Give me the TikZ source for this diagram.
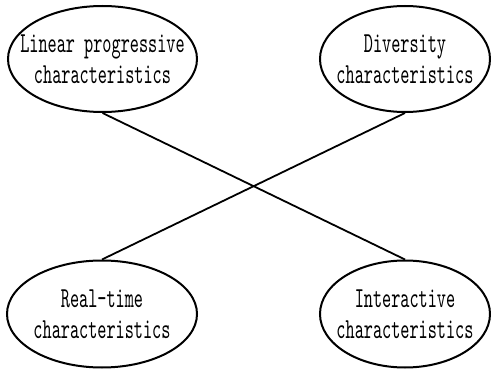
\documentclass[tikz,border=0pt]{standalone}
\usepackage{fontspec}
\usepackage{tikz}
\usetikzlibrary{shapes.geometric}
\newfontfamily\labelfont{lmmono10-regular}[Extension=.otf,FakeStretch=0.6]

\begin{document}
\begin{tikzpicture}[x=1pt,y=1pt,
  feature/.style={draw,ellipse,line width=2pt,inner sep=0pt},
  featuretext/.style={align=center,inner sep=0pt,
    font=\labelfont\fontsize{29}{31}\selectfont},
  link/.style={line width=1.8pt}]
\useasboundingbox (0,0) rectangle (491,-369);
\node[feature,minimum width=189,minimum height=106,
  label={[featuretext]center:Linear progressive\\characteristics}] (linear) at (102.5,-59) {};
\node[feature,minimum width=170,minimum height=106,
  label={[featuretext]center:Diversity\\characteristics}] (diversity) at (405,-59) {};
\node[feature,minimum width=190,minimum height=107,
  label={[featuretext]center:Real-time\\characteristics}] (realtime) at (102,-314) {};
\node[feature,minimum width=170,minimum height=107,
  label={[featuretext]center:Interactive\\characteristics}] (interactive) at (405,-314) {};
\draw[link] (linear.south) -- (interactive.north);
\draw[link] (diversity.south) -- (realtime.north);
\end{tikzpicture}
\end{document}
